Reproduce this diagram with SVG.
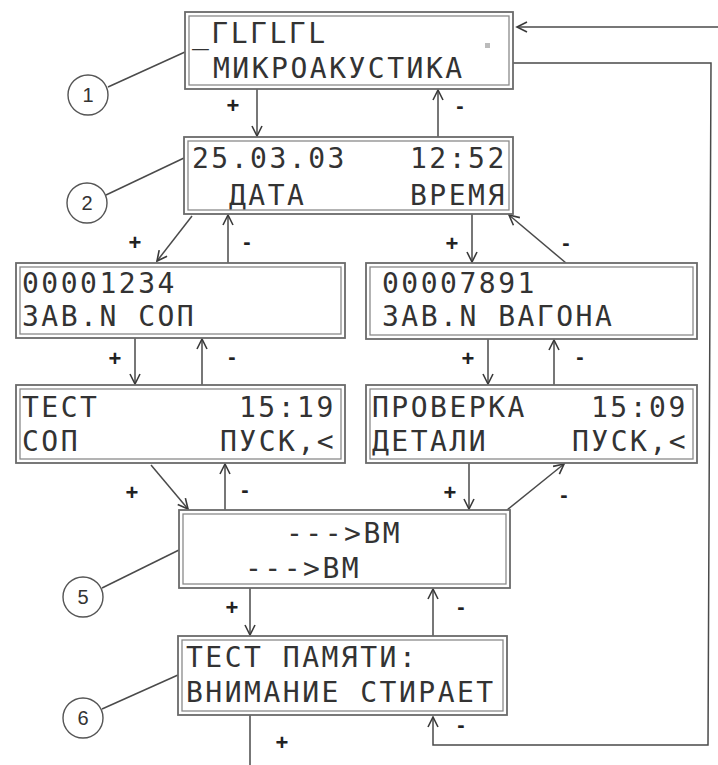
<svg xmlns="http://www.w3.org/2000/svg" width="718" height="765" viewBox="0 0 718 765">
<style>
.bo{fill:#fff;stroke:#6a6a6a;stroke-width:1.8}
.bi{fill:none;stroke:#8a8a8a;stroke-width:1.3}
.lcd{font-family:"DejaVu Sans Mono","Liberation Mono",monospace;font-size:28px;letter-spacing:2.5px;fill:#333}
.ln{fill:none;stroke:#4a4a4a;stroke-width:1.5}
.pm{font-family:"Liberation Sans",Arial,sans-serif;font-size:22px;font-weight:bold;fill:#222;text-anchor:middle}
.ci{fill:#fff;stroke:#555;stroke-width:1.4}
.cn{font-family:"Liberation Sans",Arial,sans-serif;font-size:20px;fill:#333;text-anchor:middle}
</style>
<defs>
<marker id="ah" markerUnits="userSpaceOnUse" markerWidth="14" markerHeight="14" refX="11" refY="6" orient="auto">
<path d="M1,1 L11,6 L1,11" fill="none" stroke="#3a3a3a" stroke-width="1.6"/>
</marker>
</defs>
<rect width="718" height="765" fill="#fff"/>

<g id="connectors">
<line class="ln" x1="257" y1="89" x2="257" y2="136" marker-end="url(#ah)"/>
<line class="ln" x1="438" y1="137" x2="438" y2="90" marker-end="url(#ah)"/>
<line class="ln" x1="192" y1="216" x2="157" y2="261" marker-end="url(#ah)"/>
<line class="ln" x1="228" y1="263" x2="228" y2="215" marker-end="url(#ah)"/>
<line class="ln" x1="472" y1="214" x2="472" y2="262" marker-end="url(#ah)"/>
<line class="ln" x1="566" y1="263" x2="509" y2="215" marker-end="url(#ah)"/>
<line class="ln" x1="135" y1="338" x2="135" y2="384" marker-end="url(#ah)"/>
<line class="ln" x1="202" y1="385" x2="202" y2="339" marker-end="url(#ah)"/>
<line class="ln" x1="488" y1="339" x2="488" y2="384" marker-end="url(#ah)"/>
<line class="ln" x1="554" y1="385" x2="554" y2="340" marker-end="url(#ah)"/>
<line class="ln" x1="151" y1="465" x2="188" y2="509" marker-end="url(#ah)"/>
<line class="ln" x1="225" y1="510" x2="225" y2="464" marker-end="url(#ah)"/>
<line class="ln" x1="469" y1="463" x2="469" y2="509" marker-end="url(#ah)"/>
<line class="ln" x1="507" y1="510" x2="564" y2="464" marker-end="url(#ah)"/>
<line class="ln" x1="250" y1="588" x2="250" y2="635" marker-end="url(#ah)"/>
<line class="ln" x1="433" y1="636" x2="433" y2="589" marker-end="url(#ah)"/>
<line class="ln" x1="250" y1="715" x2="250" y2="765"/>
<polyline class="ln" points="513,63 711,63 708,745 433,745 433,717" marker-end="url(#ah)"/>
<line class="ln" x1="718" y1="27" x2="517" y2="27" marker-end="url(#ah)"/>
<line class="ln" x1="108" y1="87" x2="185" y2="52"/>
<line class="ln" x1="106" y1="195" x2="184" y2="158"/>
<line class="ln" x1="102" y1="588" x2="179" y2="550"/>
<line class="ln" x1="102" y1="709" x2="178" y2="675"/>
<text class="pm" x="233" y="113">+</text>
<text class="pm" x="460" y="113">-</text>
<text class="pm" x="135" y="250">+</text>
<text class="pm" x="247" y="249">-</text>
<text class="pm" x="452" y="251">+</text>
<text class="pm" x="566" y="250">-</text>
<text class="pm" x="115" y="366">+</text>
<text class="pm" x="232" y="364">-</text>
<text class="pm" x="468" y="366">+</text>
<text class="pm" x="580" y="364">-</text>
<text class="pm" x="132" y="500">+</text>
<text class="pm" x="245" y="497">-</text>
<text class="pm" x="450" y="500">+</text>
<text class="pm" x="564" y="502">-</text>
<text class="pm" x="232" y="615">+</text>
<text class="pm" x="461" y="614">-</text>
<text class="pm" x="282" y="750">+</text>
<text class="pm" x="461" y="732">-</text>
</g>

<g id="c1"><circle class="ci" cx="88" cy="95" r="20"/><text class="cn" x="88" y="102">1</text></g>
<g id="c2"><circle class="ci" cx="87" cy="203" r="20"/><text class="cn" x="87" y="210">2</text></g>
<g id="c5"><circle class="ci" cx="83" cy="597" r="20"/><text class="cn" x="83" y="604">5</text></g>
<g id="c6"><circle class="ci" cx="83" cy="718" r="20"/><text class="cn" x="83" y="725">6</text></g>

<g id="n1">
<rect class="bo" x="185" y="12" width="328" height="77"/>
<rect class="bi" x="189" y="16" width="320" height="69"/>
<rect x="485" y="43" width="5" height="5" fill="#bbb"/>
<text class="lcd" x="192" y="43">_ГLГLГL</text>
<text class="lcd" x="213" y="78">МИКРОАКУСТИКА</text>
</g>
<g id="n2">
<rect class="bo" x="184" y="137" width="329" height="77"/>
<rect class="bi" x="188" y="141" width="321" height="69"/>
<text class="lcd" x="192" y="168">25.03.03</text>
<text class="lcd" x="410" y="168">12:52</text>
<text class="lcd" x="229" y="205">ДАТА</text>
<text class="lcd" x="410" y="205">ВРЕМЯ</text>
</g>
<g id="n3">
<rect class="bo" x="16" y="263" width="329" height="75"/>
<rect class="bi" x="20" y="267" width="321" height="67"/>
<text class="lcd" x="22" y="293">00001234</text>
<text class="lcd" x="22" y="326">ЗАВ.N СОП</text>
</g>
<g id="n4">
<rect class="bo" x="366" y="263" width="331" height="76"/>
<rect class="bi" x="370" y="267" width="323" height="68"/>
<text class="lcd" x="382" y="293">00007891</text>
<text class="lcd" x="382" y="326">ЗАВ.N ВАГОНА</text>
</g>
<g id="n5">
<rect class="bo" x="16" y="385" width="329" height="78"/>
<rect class="bi" x="20" y="389" width="321" height="70"/>
<text class="lcd" x="22" y="417">ТЕСТ</text>
<text class="lcd" x="239" y="417">15:19</text>
<text class="lcd" x="22" y="451">СОП</text>
<text class="lcd" x="220" y="451">ПУСК,&lt;</text>
</g>
<g id="n6">
<rect class="bo" x="366" y="385" width="331" height="78"/>
<rect class="bi" x="370" y="389" width="323" height="70"/>
<text class="lcd" x="372" y="417">ПРОВЕРКА</text>
<text class="lcd" x="591" y="417">15:09</text>
<text class="lcd" x="372" y="451">ДЕТАЛИ</text>
<text class="lcd" x="572" y="451">ПУСК,&lt;</text>
</g>
<g id="n7">
<rect class="bo" x="179" y="510" width="331" height="78"/>
<rect class="bi" x="183" y="514" width="323" height="70"/>
<text class="lcd" x="286" y="543">---&gt;ВМ</text>
<text class="lcd" x="245" y="578">---&gt;ВМ</text>
</g>
<g id="n8">
<rect class="bo" x="178" y="636" width="329" height="79"/>
<rect class="bi" x="182" y="640" width="321" height="71"/>
<text class="lcd" x="186" y="667">ТЕСТ ПАМЯТИ:</text>
<text class="lcd" x="186" y="702">ВНИМАНИЕ СТИРАЕТ</text>
</g>
</svg>
